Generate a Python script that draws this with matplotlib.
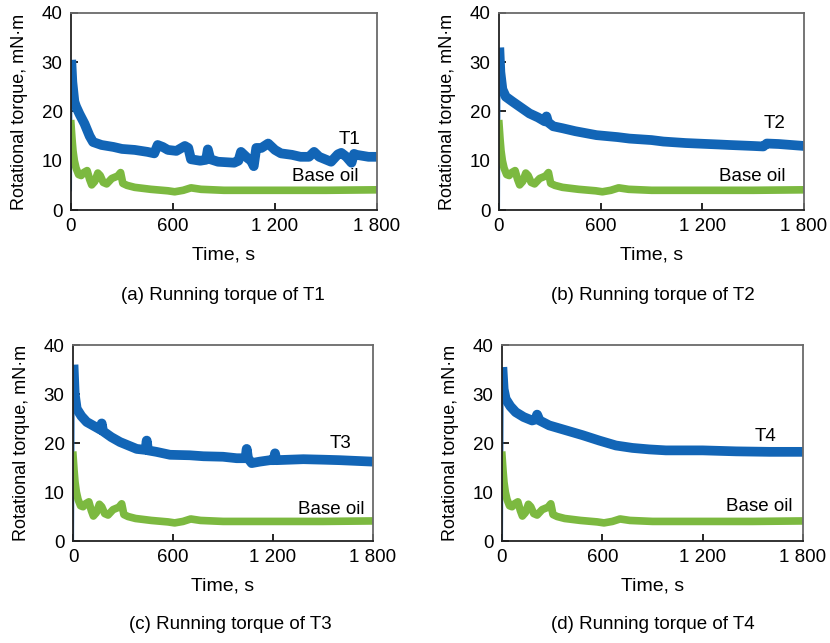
import matplotlib
matplotlib.use("Agg")
import matplotlib.pyplot as plt

plt.rcParams['font.family'] = ['Liberation Sans', 'DejaVu Sans']
plt.rcParams['font.size'] = 13

# Base oil (same reference run in every panel)
base_time = [0, 6, 12, 20, 30, 45, 60, 75, 95, 110, 122, 140, 158, 172, 190, 210, 240, 275, 292, 305,
             330, 375, 470, 570, 610, 660, 706, 765, 900, 1100, 1300, 1500, 1800]
base_oil = [17.5, 14.5, 12.0, 10.0, 8.5, 7.2, 7.0, 7.6, 8.0, 6.2, 5.1, 5.8, 7.5, 7.0, 5.6, 5.3, 6.4, 6.9, 7.6, 5.4,
            5.0, 4.6, 4.2, 3.9, 3.7, 4.0, 4.5, 4.2, 4.0, 4.0, 4.0, 4.0, 4.1]

t1_time = [0, 3, 8, 20, 30, 50, 80, 110, 130, 180, 250, 300, 375, 450, 490, 510, 540, 570, 620, 670,
           690, 706, 760, 795, 805, 820, 865, 960, 985, 1000, 1040, 1060, 1075, 1090, 1120, 1160, 1200, 1235,
           1300, 1350, 1400, 1430, 1460, 1530, 1570, 1590, 1620, 1650, 1665, 1680, 1750, 1800]
t1 = [4, 29.5, 26, 22, 21, 19.5, 17.5, 15, 13.8, 13.2, 12.8, 12.4, 12.2, 11.8, 11.5, 13.2, 12.8, 12.2, 12.0, 13.0,
      12.6, 10.3, 10.0, 10.2, 12.3, 10.3, 9.8, 9.6, 10.0, 11.8, 10.5, 10.0, 8.9, 12.6, 12.6, 13.5, 12.2, 11.5,
      11.2, 10.8, 10.8, 11.8, 10.8, 9.8, 11.3, 11.6, 10.8, 9.6, 11.4, 11.2, 10.8, 10.8]

t2_time = [0, 3, 8, 20, 40, 80, 130, 180, 230, 270, 280, 290, 320, 375, 450, 575, 700, 770, 900, 970,
           1100, 1165, 1300, 1360, 1500, 1560, 1580, 1650, 1800]
t2 = [0, 32, 28, 24.5, 23, 22, 20.8, 19.6, 18.8, 18.0, 19.0, 17.8, 17.0, 16.6, 16.0, 15.2, 14.8, 14.5, 14.2, 13.9,
      13.6, 13.5, 13.3, 13.2, 13.0, 12.9, 13.5, 13.4, 13.0]

t3_time = [0, 4, 10, 22, 50, 82, 150, 165, 172, 180, 230, 282, 382, 435, 442, 450, 500, 582, 700, 782,
           900, 982, 1035, 1042, 1050, 1072, 1120, 1182, 1205, 1212, 1220, 1300, 1382, 1500, 1600, 1800]
t3 = [0, 35, 30, 27, 25.5, 24.3, 23.0, 22.7, 24.0, 22.4, 21.2, 20.2, 18.8, 18.6, 20.5, 18.5, 18.2, 17.6, 17.5, 17.3,
      17.2, 16.9, 16.9, 18.8, 16.9, 15.9, 16.2, 16.5, 16.5, 17.9, 16.5, 16.6, 16.7, 16.6, 16.5, 16.2]

t4_time = [0, 4, 10, 22, 50, 82, 130, 180, 200, 210, 225, 282, 382, 482, 582, 681, 780, 880, 980, 1100,
           1200, 1400, 1600, 1800]
t4 = [0, 34.5, 31, 29, 27.5, 26.3, 25.3, 24.6, 24.8, 25.8, 24.6, 23.6, 22.6, 21.6, 20.5, 19.5, 19.0, 18.7, 18.5, 18.5,
      18.5, 18.3, 18.2, 18.2]

names = ['T1', 'T2', 'T3', 'T4']
captions = ['(a) Running torque of T1', '(b) Running torque of T2',
            '(c) Running torque of T3', '(d) Running torque of T4']
xticks = [0, 600, 1200, 1800]
xtick_labels = ['0', '600', '1 200', '1 800']
yticks = [0, 10, 20, 30, 40]

blue = '#1265b6'
green = '#7cb940'

fig = plt.figure(figsize=(8.3, 6.43), dpi=100)

# axes rectangles [left, bottom, width, height] in figure fraction
rects = [[0.0855, 0.6734, 0.3687, 0.3064],
         [0.6012, 0.6734, 0.3675, 0.3064],
         [0.0880, 0.1586, 0.3614, 0.3048],
         [0.6048, 0.1586, 0.3627, 0.3048]]
label_pos = [(1640, 14.4), (1629, 17.5), (1602, 20.0), (1573, 21.4)]
base_pos = [(1494, 6.9), (1493, 6.9), (1548, 6.5), (1537, 7.1)]
caption_pos = [(0.269, 0.541), (0.786, 0.541), (0.278, 0.028), (0.786, 0.028)]

series = [(t1_time, t1), (t2_time, t2), (t3_time, t3), (t4_time, t4)]

for i in range(4):
    ax = fig.add_axes(rects[i])
    tt, yy = series[i]
    ax.plot(tt[:2], yy[:2], color=blue, lw=1.5)  # start-up spike
    ax.plot(tt[1:], yy[1:], color=blue, lw=7, solid_joinstyle='round')
    ax.plot(base_time, base_oil, color=green, lw=5.5, solid_joinstyle='round')

    ax.set_xlim(0, 1800)
    ax.set_ylim(0, 40)
    ax.set_xticks(xticks)
    ax.set_xticklabels(xtick_labels)
    ax.set_yticks(yticks)
    ax.tick_params(direction='in', length=5, width=1.2, pad=6, labelsize=13.5)

    for s in ['left', 'bottom']:
        ax.spines[s].set_color('#222222')
        ax.spines[s].set_linewidth(1.3)
    for s in ['top', 'right']:
        ax.spines[s].set_color('#6a6a6a')
        ax.spines[s].set_linewidth(1.3)

    ax.set_xlabel('Time, s', labelpad=8, fontsize=14)
    ax.set_ylabel('Rotational torque, mN·m', labelpad=10, fontsize=13)

    ax.text(label_pos[i][0], label_pos[i][1], names[i], ha='center', va='center', fontsize=13.5)
    ax.text(base_pos[i][0], base_pos[i][1], 'Base oil', ha='center', va='center', fontsize=13.5)
    fig.text(caption_pos[i][0], caption_pos[i][1], captions[i], ha='center', va='center', fontsize=13.5)

fig.savefig('out.png', dpi=100)
